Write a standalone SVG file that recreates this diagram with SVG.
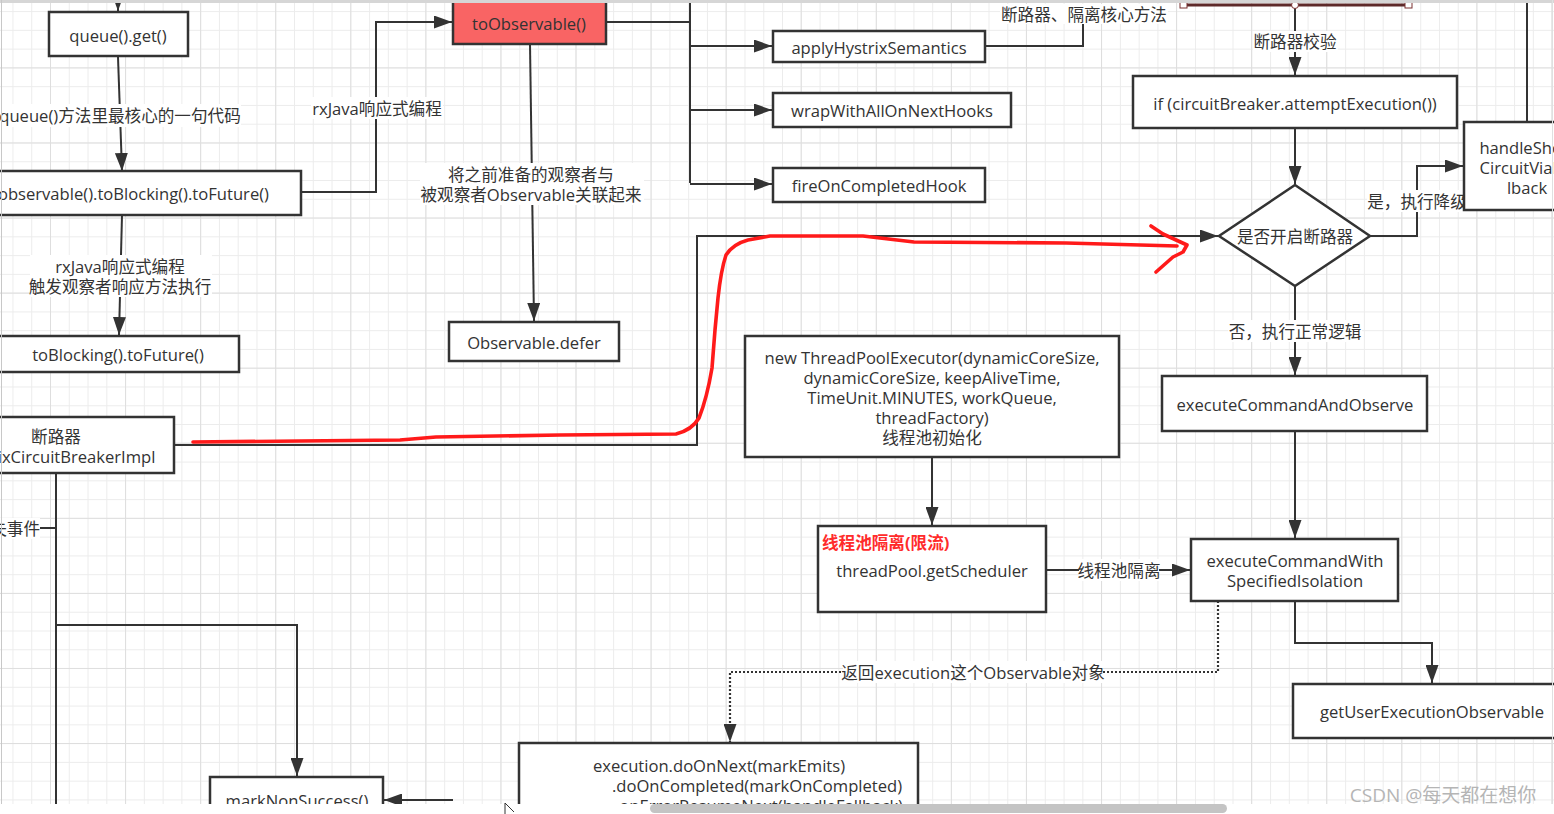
<svg xmlns="http://www.w3.org/2000/svg" width="1554" height="814" viewBox="0 0 1554 814">
<style>
text{font-family:"Open Sans","Noto Sans CJK SC",sans-serif;font-size:16.6px;fill:#333;dominant-baseline:central}
.c{text-anchor:middle}
.box{fill:#fff;stroke:#333;stroke-width:2.5}
.ln{fill:none;stroke:#333;stroke-width:2}
.dot{fill:none;stroke:#333;stroke-width:2.2;stroke-dasharray:2 2}
.lbg{fill:#fff}
.red{fill:#ff2b2b;font-weight:bold}
</style>
<defs>
<pattern id="gm" x="50" y="67.4" width="18.77" height="18.77" patternUnits="userSpaceOnUse">
<path d="M0,0.5 H18.77 M0.5,0 V18.77" stroke="#ececec" stroke-width="1" fill="none"/>
</pattern>
<pattern id="gM" x="50" y="67.4" width="75.07" height="75.07" patternUnits="userSpaceOnUse">
<path d="M0,0.5 H75.07 M0.5,0 V75.07" stroke="#dedede" stroke-width="1" fill="none"/>
</pattern>
<marker id="arr" viewBox="0 0 18 13" refX="18" refY="6.5" markerWidth="18" markerHeight="13" markerUnits="userSpaceOnUse" orient="auto">
<path d="M0,0 L18,6.5 L0,13 z" fill="#333"/>
</marker>
</defs>
<rect width="1554" height="814" fill="#fff"/>
<rect width="1554" height="814" fill="url(#gm)"/>
<rect width="1554" height="814" fill="url(#gM)"/>

<g id="connectors">
<path class="ln" d="M118,0 V11" marker-end="url(#arr)"/>
<path class="ln" d="M118,57 L122,171" marker-end="url(#arr)"/>
<path class="ln" d="M301,192 H376 V22 H452" marker-end="url(#arr)"/>
<path class="ln" d="M122,215 L119,335" marker-end="url(#arr)"/>
<path class="ln" d="M606,22 H690 M690,0 V183"/>
<path class="ln" d="M690,46 H772" marker-end="url(#arr)"/>
<path class="ln" d="M690,110 H772" marker-end="url(#arr)"/>
<path class="ln" d="M690,184 H772" marker-end="url(#arr)"/>
<path class="ln" d="M985,46 H1083 V20"/>
<path class="ln" d="M1295,8 V75" marker-end="url(#arr)"/>
<path class="ln" d="M1295,128 V184" marker-end="url(#arr)"/>
<path class="ln" d="M1370,236 H1417 V166 H1463" marker-end="url(#arr)"/>
<path class="ln" d="M1527,0 V122"/>
<path class="ln" d="M1295,286 V375" marker-end="url(#arr)"/>
<path class="ln" d="M174,445 H697 V236 H1218" marker-end="url(#arr)"/>
<path class="ln" d="M530,44 L534,321" marker-end="url(#arr)"/>
<path class="ln" d="M932,457 V525" marker-end="url(#arr)"/>
<path class="ln" d="M1046,570 H1190" marker-end="url(#arr)"/>
<path class="ln" d="M1295,431 V538" marker-end="url(#arr)"/>
<path class="ln" d="M1295,601 V643 H1432 V683" marker-end="url(#arr)"/>
<path class="dot" d="M1218,601 V672 H730 V742" marker-end="url(#arr)"/>
<path class="ln" d="M56,473 V814"/>
<path class="ln" d="M56,625 H297 V776" marker-end="url(#arr)"/>
<path class="ln" d="M40,528 H56"/>
<path class="ln" d="M453,800 H384" marker-end="url(#arr)"/>

<rect class="lbg" x="0" y="104" width="241" height="23"/>
<text x="120" y="115" class="c">queue()方法里最核心的一句代码</text>
<rect class="lbg" x="311" y="97" width="132" height="22"/>
<text x="377" y="108" class="c">rxJava响应式编程</text>
<rect class="lbg" x="30" y="255" width="182" height="42"/>
<text x="120" y="266" class="c">rxJava响应式编程</text>
<text x="120" y="286" class="c">触发观察者响应方法执行</text>
<rect class="lbg" x="420" y="163" width="224" height="42"/>
<text x="531" y="174" class="c">将之前准备的观察者与</text>
<text x="531" y="194" class="c">被观察者Observable关联起来</text>
<rect class="lbg" x="1000" y="4" width="168" height="20"/>
<text x="1084" y="14" class="c">断路器、隔离核心方法</text>
<rect class="lbg" x="1253" y="31" width="85" height="21"/>
<text x="1295" y="41" class="c">断路器校验</text>
<rect class="lbg" x="1367" y="190" width="97" height="22"/>
<text x="1417" y="201" class="c">是，执行降级</text>
<rect class="lbg" x="1228" y="320" width="134" height="22"/>
<text x="1295" y="331" class="c">否，执行正常逻辑</text>
<rect class="lbg" x="1079" y="559" width="80" height="22"/>
<text x="1119" y="570" class="c">线程池隔离</text>
<rect class="lbg" x="843" y="661" width="260" height="22"/>
<text x="973" y="672" class="c">返回execution这个Observable对象</text>
<rect class="lbg" x="0" y="518" width="40" height="21"/>
<text x="40" y="528" text-anchor="end">失事件</text>

<path d="M193,442 L300,441 L400,440 L436,437 L560,435 L676,434 Q692,430 699,418 Q707,398 712,368 L715,330 L718,298 Q721,270 726,255 Q733,244 748,240 L770,236 L863,236 L914,242 L1066,243 L1177,246 M1151,226 L1163,234 L1187,245 L1183,252 L1173,257 L1156,272" fill="none" stroke="#ff1a1a" stroke-width="3.6" stroke-linecap="round" stroke-linejoin="round"/>
</g>

<g id="queue-get"><rect class="box" x="49" y="12" width="139" height="44"/><text x="118" y="35" class="c">queue().get()</text></g>
<g id="to-blocking-future"><rect class="box" x="-60" y="171" width="361" height="44"/><text x="269" y="193" text-anchor="end">observable().toBlocking().toFuture()</text></g>
<g id="to-observable"><rect x="453" y="-2" width="153" height="46" fill="#f96464" stroke="#333" stroke-width="2.5"/><text x="529" y="23" class="c">toObservable()</text></g>
<g id="apply-hystrix"><rect class="box" x="773" y="31" width="212" height="31"/><text x="879" y="47" class="c">applyHystrixSemantics</text></g>
<g id="wrap-hooks"><rect class="box" x="773" y="93" width="238" height="34"/><text x="892" y="110" class="c">wrapWithAllOnNextHooks</text></g>
<g id="fire-completed"><rect class="box" x="773" y="168" width="212" height="34"/><text x="879" y="185" class="c">fireOnCompletedHook</text></g>
<g id="selected-shape">
<line x1="1184" y1="5" x2="1408" y2="5" stroke="#5e2a2a" stroke-width="3"/>
<rect x="1180" y="1" width="7" height="7" fill="#fff" stroke="#7a3030" stroke-width="1"/>
<rect x="1405" y="1" width="7" height="7" fill="#fff" stroke="#7a3030" stroke-width="1"/>
<circle cx="1295" cy="5" r="3.5" fill="#fff" stroke="#7a3030" stroke-width="1"/>
</g>
<g id="if-attempt"><rect class="box" x="1133" y="76" width="324" height="52"/><text x="1295" y="103" class="c">if (circuitBreaker.attemptExecution())</text></g>
<g id="decision"><path class="box" d="M1295,185 L1370,236 L1295,286 L1219,236 z"/><text x="1295" y="236" class="c">是否开启断路器</text></g>
<g id="handle-short"><rect class="box" x="1464" y="122" width="130" height="88"/><text x="1527" y="147" class="c">handleShort</text><text x="1527" y="167" class="c">CircuitViaFal</text><text x="1527" y="187" class="c">lback</text></g>
<g id="to-blocking"><rect class="box" x="-2" y="336" width="241" height="36"/><text x="118" y="354" class="c">toBlocking().toFuture()</text></g>
<g id="observable-defer"><rect class="box" x="449" y="322" width="170" height="39"/><text x="534" y="342" class="c">Observable.defer</text></g>
<g id="circuit-breaker-impl"><rect class="box" x="-62" y="417" width="236" height="56"/><text x="56" y="436" class="c">断路器</text><text x="56" y="456" class="c">HystrixCircuitBreakerImpl</text></g>
<g id="thread-pool-executor"><rect class="box" x="745" y="336" width="374" height="121"/>
<text x="932" y="357" class="c">new ThreadPoolExecutor(dynamicCoreSize,</text>
<text x="932" y="377" class="c">dynamicCoreSize, keepAliveTime,</text>
<text x="932" y="397" class="c">TimeUnit.MINUTES, workQueue,</text>
<text x="932" y="417" class="c">threadFactory)</text>
<text x="932" y="437" class="c">线程池初始化</text></g>
<g id="execute-and-observe"><rect class="box" x="1162" y="376" width="265" height="55"/><text x="1295" y="404" class="c">executeCommandAndObserve</text></g>
<g id="thread-pool-scheduler"><rect class="box" x="818" y="526" width="228" height="86"/><text x="822" y="542" class="red">线程池隔离(限流)</text><text x="932" y="570" class="c">threadPool.getScheduler</text></g>
<g id="execute-with-isolation"><rect class="box" x="1191" y="539" width="207" height="62"/><text x="1295" y="560" class="c">executeCommandWith</text><text x="1295" y="580" class="c">SpecifiedIsolation</text></g>
<g id="get-user-execution"><rect class="box" x="1293" y="684" width="280" height="54"/><text x="1432" y="711" class="c">getUserExecutionObservable</text></g>
<g id="execution-chain"><rect class="box" x="519" y="743" width="399" height="80"/>
<text x="719" y="765" class="c">execution.doOnNext(markEmits)</text>
<text x="757" y="785" class="c">.doOnCompleted(markOnCompleted)</text>
<text x="759" y="805" class="c">.onErrorResumeNext(handleFallback)</text></g>
<g id="mark-non-success"><rect class="box" x="210" y="777" width="173" height="40"/><text x="297" y="800" class="c">markNonSuccess()</text></g>

<g id="chrome">
<rect x="0" y="804" width="1554" height="10" fill="#fff"/>
<rect x="650" y="804" width="577" height="9" rx="4.5" fill="#c4c4c4"/>
<line x1="0" y1="1.5" x2="1554" y2="1.5" stroke="#d6d6d6" stroke-width="3"/>
<line x1="1.5" y1="0" x2="1.5" y2="804" stroke="#c8c8c8" stroke-width="1"/>
<line x1="1552.5" y1="0" x2="1552.5" y2="804" stroke="#e0e0e0" stroke-width="1"/>
<path d="M505,803 V814 M505,803 L514,812" stroke="#333" stroke-width="1" fill="none"/>
<text x="1443" y="795" class="c" style="fill:#b5b5b5;font-size:19px">CSDN @每天都在想你</text>
</g>
</svg>
